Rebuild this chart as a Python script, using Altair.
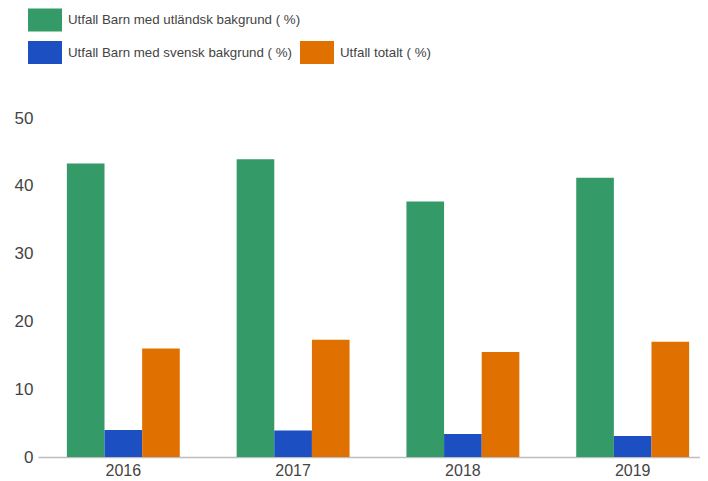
import altair as alt
import pandas as pd

years = ["2016", "2017", "2018", "2019"]
series = [
    "Utfall Barn med utländsk bakgrund ( %)",
    "Utfall Barn med svensk bakgrund ( %)",
    "Utfall totalt ( %)",
]
utlandsk = [43.3, 43.9, 37.7, 41.2]
svensk = [4.0, 3.9, 3.4, 3.1]
totalt = [16.0, 17.3, 15.5, 17.0]
colors = ["#349a68", "#1c4fc2", "#e07000"]

rows = []
for s, vals in zip(series, [utlandsk, svensk, totalt]):
    for y, v in zip(years, vals):
        rows.append({"year": y, "series": s, "value": v})
df = pd.DataFrame(rows)

AX_FONT = "Liberation Sans, Arial, sans-serif"
LG_FONT = "Liberation Sans, Arial, sans-serif"
TXT = "#444444"
PATH = "M-1,-0.68H1V0.68H-1Z"

bars = alt.Chart(df).mark_bar().encode(
    x=alt.X(
        "year:N", sort=years, title=None,
        scale=alt.Scale(paddingInner=0.335, paddingOuter=0.17),
        axis=alt.Axis(labelAngle=0, ticks=False, tickSize=0, domainColor="#bdbdbd",
                      domainWidth=1.5, labelPadding=5, labelFontSize=16,
                      labelColor=TXT, labelFont=AX_FONT, grid=False),
    ),
    xOffset=alt.XOffset("series:N", sort=series,
                        scale=alt.Scale(paddingInner=0, paddingOuter=0)),
    y=alt.Y(
        "value:Q", title=None, scale=alt.Scale(domain=[0, 50]),
        axis=alt.Axis(values=[0, 10, 20, 30, 40, 50], grid=False, domain=False,
                      ticks=False, tickSize=0, labelPadding=5, labelFontSize=17,
                      labelColor=TXT, labelFont=AX_FONT),
    ),
    color=alt.Color("series:N", sort=series,
                    scale=alt.Scale(domain=series, range=colors), legend=None),
)


def legend_layer(i, lx, ly):
    name = series[i]
    return alt.Chart(df).transform_filter(alt.datum.series == name).mark_square(
        opacity=0
    ).encode(
        color=alt.Color(
            "series:N",
            scale=alt.Scale(domain=[name], range=[colors[i]]),
            legend=alt.Legend(
                orient="none", legendX=lx, legendY=ly, title=None,
                symbolType=PATH, symbolSize=1156, symbolOpacity=1,
                symbolStrokeWidth=0, labelFontSize=13.3, labelFont=LG_FONT,
                labelColor=TXT, labelOffset=6, padding=0, labelLimit=500,
            ),
        )
    )


chart = alt.layer(
    bars,
    legend_layer(0, -10, -115),
    legend_layer(1, -10, -82.5),
    legend_layer(2, 262, -82.5),
).resolve_scale(color="independent").properties(
    width=680, height=339,
    padding={"left": 30, "top": 110, "right": -18, "bottom": 24},
    autosize="none",
    background="white",
).configure_view(stroke=None)

chart.save("out.html", embed_options={"renderer": "svg", "actions": False})
